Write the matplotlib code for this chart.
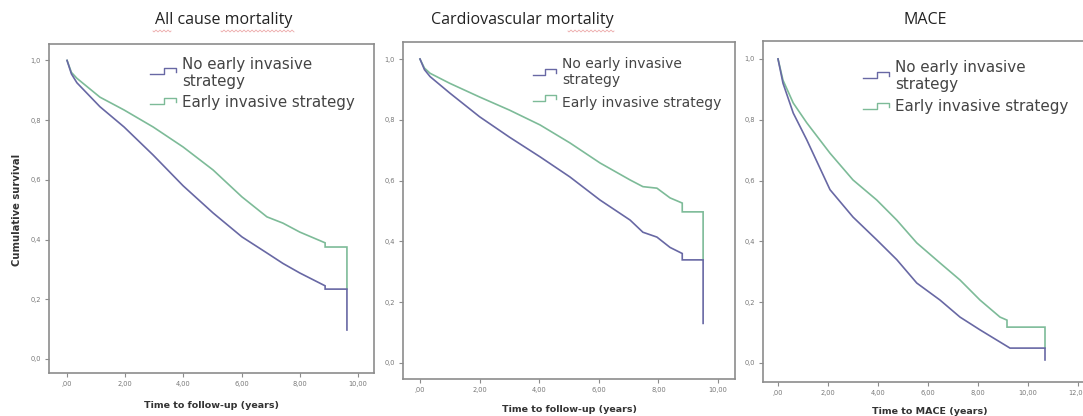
import numpy as np
import matplotlib
matplotlib.use("Agg")
import matplotlib.pyplot as plt
from matplotlib.lines import Line2D

W, H = 1083, 416

# ---------------- data ----------------
titles = ["All cause mortality", "Cardiovascular mortality", "MACE"]
xlabels = ["Time to follow-up (years)", "Time to follow-up (years)", "Time to MACE (years)"]
legend_labels = ["No early invasive\nstrategy", "Early invasive strategy"]

y_ticks = [0.0, 0.2, 0.4, 0.6, 0.8, 1.0]
y_ticklabels = ["0,0", "0,2", "0,4", "0,6", "0,8", "1,0"]
x_ticks_12 = [0, 2, 4, 6, 8, 10]
x_ticklabels_12 = [",00", "2,00", "4,00", "6,00", "8,00", "10,00"]
x_ticks_3 = [0, 2, 4, 6, 8, 10, 12]
x_ticklabels_3 = [",00", "2,00", "4,00", "6,00", "8,00", "10,00", "12,00"]

# All cause mortality
all_no_t = [0, 0.15, 0.34, 1.13, 1.96, 2.96, 3.99, 5.02, 6.01, 6.87, 7.42, 8.0, 8.87, 8.87, 9.62, 9.62]
all_no_s = [1.0, 0.955, 0.925, 0.845, 0.777, 0.683, 0.58, 0.489, 0.409, 0.355, 0.32, 0.288, 0.245, 0.234, 0.234, 0.097]
all_ei_t = [0, 0.15, 0.34, 1.13, 1.96, 2.96, 3.99, 5.02, 6.01, 6.87, 7.42, 8.0, 8.87, 8.87, 9.62, 9.62]
all_ei_s = [1.0, 0.96, 0.94, 0.877, 0.834, 0.777, 0.71, 0.633, 0.543, 0.476, 0.455, 0.425, 0.389, 0.375, 0.375, 0.234]

# Cardiovascular mortality
cv_no_t = [0, 0.15, 0.34, 1.0, 2.0, 3.0, 4.03, 5.03, 6.04, 7.05, 7.48, 7.95, 8.39, 8.8, 8.8, 9.5, 9.5]
cv_no_s = [1.0, 0.965, 0.942, 0.888, 0.81, 0.743, 0.678, 0.612, 0.536, 0.47, 0.43, 0.414, 0.38, 0.36, 0.339, 0.339, 0.13]
cv_ei_t = [0, 0.15, 0.34, 1.0, 2.0, 3.0, 4.03, 5.03, 6.04, 7.05, 7.48, 7.95, 8.39, 8.8, 8.8, 9.5, 9.5]
cv_ei_s = [1.0, 0.97, 0.953, 0.92, 0.875, 0.832, 0.783, 0.724, 0.658, 0.602, 0.58, 0.575, 0.543, 0.526, 0.497, 0.497, 0.339]

# MACE
mace_no_t = [0, 0.2, 0.61, 1.15, 2.08, 3.0, 3.95, 4.75, 5.55, 6.48, 7.28, 8.08, 8.88, 9.28, 10.68, 10.68]
mace_no_s = [1.0, 0.92, 0.822, 0.734, 0.57, 0.48, 0.405, 0.34, 0.263, 0.207, 0.151, 0.109, 0.069, 0.049, 0.049, 0.01]
mace_ei_t = [0, 0.2, 0.61, 1.15, 2.08, 3.0, 3.95, 4.75, 5.55, 6.48, 7.28, 8.08, 8.88, 9.16, 9.16, 10.68, 10.68]
mace_ei_s = [1.0, 0.93, 0.855, 0.79, 0.69, 0.602, 0.536, 0.47, 0.395, 0.329, 0.273, 0.207, 0.151, 0.141, 0.118, 0.118, 0.049]

series = [
    ((all_no_t, all_no_s), (all_ei_t, all_ei_s)),
    ((cv_no_t, cv_no_s), (cv_ei_t, cv_ei_s)),
    ((mace_no_t, mace_no_s), (mace_ei_t, mace_ei_s)),
]

# ---------------- styling / layout ----------------
C_NO = "#6868a4"
C_EI = "#7dbb98"
SPINE = "#8c8c8c"
TXT = "#444444"

# axes boxes in pixels: (left, top, right, bottom)
boxes = [(49, 44, 374, 373), (403, 42, 735, 379), (763, 41, 1090, 382)]
xlims = [(-0.62, 10.55), (-0.57, 10.57), (-0.6, 12.48)]
ylims = [(-0.047, 1.055), (-0.053, 1.056), (-0.0625, 1.059)]
xticks = [(x_ticks_12, x_ticklabels_12), (x_ticks_12, x_ticklabels_12), (x_ticks_3, x_ticklabels_3)]
title_pos = [(224, 20), (522, 20), (925, 20)]
xlabel_pos = [(212, 405), (570, 410), (930, 411)]
# legend: text left x, first line y, handle x0, x1, handle y's, font size
leg = [
    (182, 65, 150, 180, 71, 101, 10.8),
    (562, 65, 533, 560, 72, 98, 10.0),
    (895, 68, 863, 893, 75, 106, 10.9),
]
# red spell-check squiggles under title words (pixel x0, x1, y)
squiggles = [(153, 171, 31), (221, 294, 31), (568, 614, 31)]


def fx(px):
    return px / W


def fy(py):
    return 1 - py / H


fig = plt.figure(figsize=(W / 100, H / 100), dpi=100)
fig.patch.set_facecolor("white")

for i in range(3):
    l, t, r, b = boxes[i]
    ax = fig.add_axes([fx(l), fy(b), (r - l) / W, (b - t) / H])
    (nt, ns), (et, es) = series[i]
    ax.plot(et, es, color=C_EI, lw=1.2, solid_joinstyle="miter")
    ax.plot(nt, ns, color=C_NO, lw=1.2, solid_joinstyle="miter")
    ax.set_xlim(*xlims[i])
    ax.set_ylim(*ylims[i])
    ax.set_yticks(y_ticks)
    ax.set_yticklabels(y_ticklabels)
    ax.set_xticks(xticks[i][0])
    ax.set_xticklabels(xticks[i][1])
    ax.tick_params(axis="both", direction="out", length=3, width=0.8, color=SPINE,
                   labelsize=4.8, labelcolor="#777777", pad=3)
    for s in ax.spines.values():
        s.set_color(SPINE)
        s.set_linewidth(1.2)

    # titles
    tx, ty = title_pos[i]
    fig.text(fx(tx), fy(ty), titles[i], ha="center", va="center", fontsize=11.5,
             family="Open Sans", color="#222222")
    # x labels
    lx, ly = xlabel_pos[i]
    fig.text(fx(lx), fy(ly), xlabels[i], ha="center", va="center", fontsize=6.8,
             fontweight="bold", color="#333333")

    # legend (SPSS-like step handles)
    txl, ty1, hx0, hx1, hy1, hy2, fs = leg[i]
    fig.text(fx(txl), fy(ty1 - 8), legend_labels[0], ha="left", va="top", fontsize=fs,
             color=TXT, linespacing=1.2)
    fig.text(fx(txl), fy(ty1 + 38), legend_labels[1], ha="left", va="center", fontsize=fs,
             color=TXT)
    for hy, col in ((hy1, C_NO), (hy2, C_EI)):
        w = hx1 - hx0
        xs = [hx0, hx0 + 0.45 * w, hx0 + 0.45 * w, hx0 + 0.85 * w, hx0 + 0.85 * w]
        ys = [hy + 3, hy + 3, hy - 3, hy - 3, hy + 1]
        fig.add_artist(Line2D([fx(v) for v in xs], [fy(v) for v in ys], color=col, lw=1.0))

# y label only on first panel
fig.text(fx(17), fy(210), "Cumulative survival", rotation=90, ha="center", va="center",
         fontsize=7.2, fontweight="bold", color="#333333")

# faint spell-check squiggles
for x0, x1, yy in squiggles:
    xs = np.linspace(x0, x1, int((x1 - x0) * 2))
    ys = yy + 0.9 * np.sin((xs - x0) * np.pi / 2.0)
    fig.add_artist(Line2D(fx(xs), fy(ys), color="#e07070", lw=0.6, alpha=0.6))

fig.savefig("out.png", dpi=100, facecolor="white")
